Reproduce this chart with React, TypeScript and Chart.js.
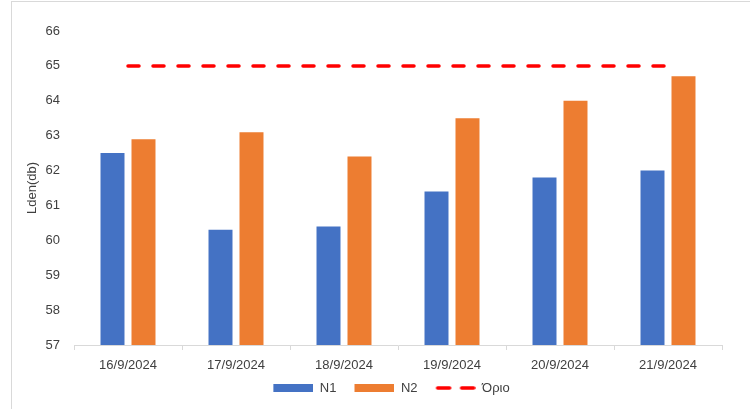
import React, { useEffect, useRef } from "react";
import { Chart, registerables } from "chart.js";

Chart.register(...registerables);

const categories = ["16/9/2024", "17/9/2024", "18/9/2024", "19/9/2024", "20/9/2024", "21/9/2024"];
const n1Values = [62.5, 60.3, 60.4, 61.4, 61.8, 62.0];
const n2Values = [62.9, 63.1, 62.4, 63.5, 64.0, 64.7];
const limitValues = [65, 65, 65, 65, 65, 65];
const seriesNames = ["N1", "N2", "Όριο"];
const seriesColors = ["#4472C4", "#ED7D31", "#FF0000"];
const yTitle = "Lden(db)";
const yMin = 57;
const yMax = 66;

const FONT = "'Liberation Sans', Arial, sans-serif";
const TEXT = "#404040";

function makeRectIcon(color: string): HTMLCanvasElement {
  const c = document.createElement("canvas");
  c.width = 48;
  c.height = 10;
  const g = c.getContext("2d")!;
  g.fillStyle = color;
  g.fillRect(8, 1, 40, 8);
  return c;
}

function makeDashIcon(color: string): HTMLCanvasElement {
  const c = document.createElement("canvas");
  c.width = 48;
  c.height = 10;
  const g = c.getContext("2d")!;
  g.strokeStyle = color;
  g.lineWidth = 3.5;
  g.lineCap = "round";
  g.beginPath();
  g.moveTo(10, 5);
  g.lineTo(22, 5);
  g.moveTo(34, 5);
  g.lineTo(46, 5);
  g.stroke();
  return c;
}

const legendShift = {
  id: "legendShift",
  afterLayout(chart: any) {
    if (chart.legend) {
      chart.legend.left += 16;
      chart.legend.right += 16;
    }
  },
};

export default function App() {
  const ref = useRef<HTMLCanvasElement | null>(null);

  useEffect(() => {
    document.body.style.margin = "0";
    const canvas = ref.current;
    if (!canvas) return;
    const icons = [makeRectIcon(seriesColors[0]), makeRectIcon(seriesColors[1]), makeDashIcon(seriesColors[2])];
    const chart = new Chart(canvas, {
      type: "bar",
      data: {
        labels: categories,
        datasets: [
          {
            label: seriesNames[0],
            data: n1Values,
            backgroundColor: seriesColors[0],
            borderWidth: 0,
            categoryPercentage: 0.574,
            barPercentage: 0.774,
            order: 2,
          },
          {
            label: seriesNames[1],
            data: n2Values,
            backgroundColor: seriesColors[1],
            borderWidth: 0,
            categoryPercentage: 0.574,
            barPercentage: 0.774,
            order: 2,
          },
          {
            type: "line",
            label: seriesNames[2],
            data: limitValues,
            borderColor: seriesColors[2],
            backgroundColor: seriesColors[2],
            borderWidth: 3.5,
            borderDash: [11, 14],
            borderCapStyle: "round",
            pointRadius: 0,
            pointHoverRadius: 0,
            fill: false,
            order: 1,
          } as any,
        ],
      },
      plugins: [legendShift],
      options: {
        responsive: false,
        animation: false,
        maintainAspectRatio: false,
        layout: { padding: { left: 21, right: 28, top: 31, bottom: 4.5 } },
        plugins: {
          tooltip: { enabled: false },
          legend: {
            position: "bottom",
            labels: {
              font: { family: FONT, size: 13 },
              color: TEXT,
              usePointStyle: true,
              pointStyleWidth: 48,
              boxHeight: 10,
              padding: 10,
              sort: (a: any, b: any) => a.datasetIndex - b.datasetIndex,
              generateLabels: (c: any) => {
                const items = (Chart.defaults.plugins.legend.labels as any).generateLabels(c);
                return items.map((it: any) => ({
                  ...it,
                  pointStyle: icons[it.datasetIndex],
                  lineWidth: 0,
                  lineDash: [],
                }));
              },
            },
          },
        },
        scales: {
          x: {
            grid: {
              display: true,
              drawOnChartArea: false,
              drawTicks: true,
              tickLength: 5,
              color: "#d9d9d9",
              offset: true,
            },
            border: { display: true, color: "#d9d9d9", width: 1 },
            ticks: { font: { family: FONT, size: 13 }, color: TEXT, padding: 8 },
            afterFit: (s: any) => {
              s.height = 26.5;
            },
          },
          y: {
            min: yMin,
            max: yMax,
            ticks: { stepSize: 1, font: { family: FONT, size: 13 }, color: TEXT, padding: 14 },
            grid: { display: false, drawTicks: false },
            border: { display: false },
            title: { display: true, text: yTitle, font: { family: FONT, size: 13 }, color: TEXT },
            afterFit: (s: any) => {
              s.width = 53;
            },
          },
        },
      },
    } as any);
    return () => chart.destroy();
  }, []);

  return (
    <div style={{ position: "relative", width: 750, height: 409, background: "#fff", overflow: "hidden" }}>
      <div
        style={{
          position: "absolute",
          left: 11,
          top: 1,
          width: 760,
          height: 420,
          borderLeft: "1px solid #d9d9d9",
          borderTop: "1px solid #d9d9d9",
        }}
      />
      <canvas ref={ref} width={750} height={409} style={{ position: "absolute", left: 0, top: 0 }} />
    </div>
  );
}
